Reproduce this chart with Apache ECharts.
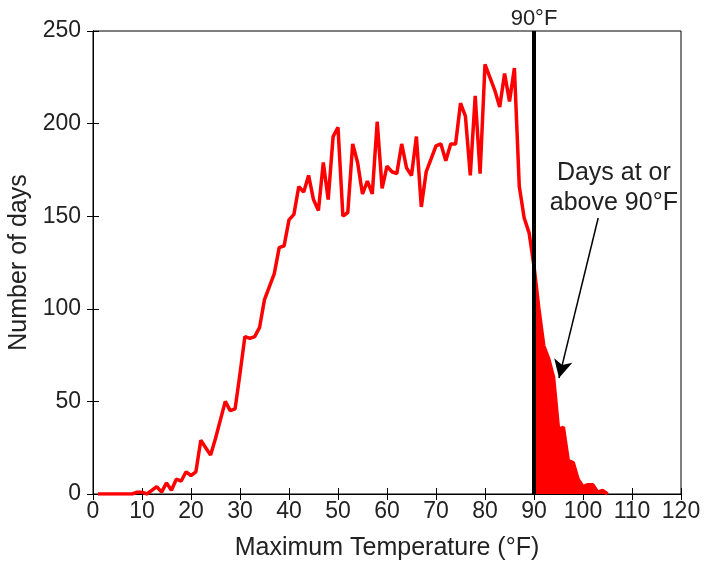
<!DOCTYPE html>
<html>
<head>
<meta charset="utf-8">
<script src="https://cdn.jsdelivr.net/npm/echarts@6/dist/echarts.min.js"></script>
<style>html,body{margin:0;padding:0;background:#fff}#c{width:709px;height:561px}</style>
</head>
<body>
<div id="c"></div>
<script>
var temps = [1,2,3,4,5,6,7,8,9,10,11,12,13,14,15,16,17,18,19,20,21,22,23,24,25,26,27,28,29,30,31,32,33,34,35,36,37,38,39,40,41,42,43,44,45,46,47,48,49,50,51,52,53,54,55,56,57,58,59,60,61,62,63,64,65,66,67,68,69,70,71,72,73,74,75,76,77,78,79,80,81,82,83,84,85,86,87,88,89,90,91,92,93,94,95,96,97,98,99,100,101,102,103,104,105];
var days = [0,0,0,0,0,0,0,0,1,1,0,2,4,1,6,2,8,7,12,10,12,29,25,21,30,40,50,45,46,65,85,84,85,90,105,112,119,133,134,148,151,166,163,172,159,153,179,159,193,198,150,152,189,179,162,169,162,201,165,177,174,173,189,176,172,193,155,174,181,188,189,180,189,189,211,204,172,215,173,232,225,218,209,227,212,230,166,149,141,123,100,80,73,63,35,36,18,17,8,4,5,5,1,2,0];
var threshold = 90;
var xTicks = {min: 0, max: 120, interval: 10};
var yTicks = {min: 0, max: 250, interval: 50};
var annotationText = 'Days at or\nabove 90°F';
var arrowFrom = [103.1, 149];
var arrowTo = [95.1, 62.6];
var textAt = [106.3, 165];

var lineData = temps.map(function(t, i){ return [t, days[i]]; });
var hotData = lineData.filter(function(p){ return p[0] >= threshold; });

var font = 'Liberation Sans, Arial, sans-serif';
var txt = '#222';
var chart = echarts.init(document.getElementById('c'), null, {renderer: 'canvas'});
var tickStyle = {show: true, inside: true, length: 6, lineStyle: {color: '#000', width: 1}};
chart.setOption({
  animation: false,
  grid: {left: 93, right: 28, top: 31, bottom: 67, outerBoundsMode: 'none', containLabel: false,
         show: true, borderColor: '#000', borderWidth: 1, backgroundColor: 'transparent'},
  xAxis: [{
    type: 'value', min: xTicks.min, max: xTicks.max, interval: xTicks.interval,
    name: 'Maximum Temperature (°F)', nameLocation: 'middle', nameGap: 42,
    nameTextStyle: {fontSize: 25, color: txt, fontFamily: font},
    axisLine: {show: true, lineStyle: {color: '#000', width: 1}},
    axisTick: tickStyle, splitLine: {show: false},
    axisLabel: {fontSize: 23, color: txt, fontFamily: font, margin: 6}
  }, {
    type: 'value', position: 'top', min: xTicks.min, max: xTicks.max, interval: xTicks.interval,
    axisLine: {show: true, lineStyle: {color: '#000', width: 1}},
    axisTick: tickStyle, splitLine: {show: false}, axisLabel: {show: false}
  }],
  yAxis: [{
    type: 'value', min: yTicks.min, max: yTicks.max, interval: yTicks.interval,
    name: 'Number of days', nameLocation: 'middle', nameGap: 59, nameRotate: 90,
    nameTextStyle: {fontSize: 25, color: txt, fontFamily: font},
    axisLine: {show: true, lineStyle: {color: '#000', width: 1}},
    axisTick: tickStyle, splitLine: {show: false},
    axisLabel: {fontSize: 23, color: txt, fontFamily: font, margin: 12}
  }, {
    type: 'value', position: 'right', min: yTicks.min, max: yTicks.max, interval: yTicks.interval,
    axisLine: {show: true, lineStyle: {color: '#000', width: 1}},
    axisTick: tickStyle, splitLine: {show: false}, axisLabel: {show: false}
  }],
  series: [{
    type: 'line', data: hotData, showSymbol: false, symbol: 'none',
    lineStyle: {width: 1, color: '#ff0000'},
    areaStyle: {color: '#ff0000', opacity: 1, origin: 'start'},
    z: 2
  }, {
    type: 'line', data: lineData, showSymbol: false, symbol: 'none',
    lineStyle: {width: 3.5, color: '#ff0000'}, z: 3,
    markLine: {
      silent: true, animation: false,
      symbol: ['none', 'none'],
      data: [
        [{xAxis: threshold, yAxis: yTicks.min, lineStyle: {color: '#000', width: 4, type: 'solid'},
          label: {show: true, position: 'end', formatter: '90°F', fontSize: 22, color: txt, fontFamily: font, distance: 1}},
         {xAxis: threshold, yAxis: yTicks.max}],
        [{coord: arrowFrom, symbol: 'none', lineStyle: {color: '#000', width: 1.5, type: 'solid'}, label: {show: false}},
         {coord: arrowTo, symbol: 'arrow', symbolSize: [14, 18]}]
      ]
    },
    markPoint: {
      silent: true, symbol: 'circle', symbolSize: 0,
      data: [{coord: textAt, label: {show: true, position: 'inside', formatter: annotationText, fontSize: 25, lineHeight: 30, color: txt, fontFamily: font, align: 'center'}}]
    }
  }]
});
</script>
</body>
</html>
